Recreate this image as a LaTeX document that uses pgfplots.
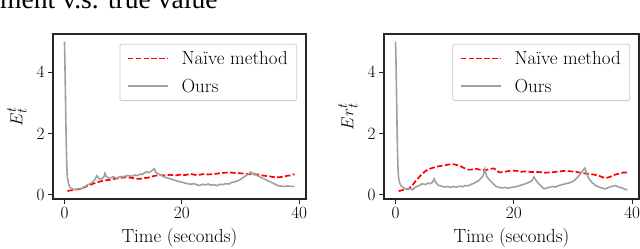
\documentclass[border=0pt]{standalone}
\usepackage{fontspec}
\usepackage{pgfplots}
\pgfplotsset{compat=1.18}
\newfontfamily\titlefont{Liberation Serif}
\newcommand{\cf}{\fontsize{19}{22}\selectfont}
\definecolor{ourgray}{RGB}{160,160,160}
\definecolor{legframe}{RGB}{204,204,204}
\pgfplotsset{
  naive/.style={color=red, dash pattern=on 5.5bp off 2.4bp, line width=1.7bp},
  ours/.style={color=ourgray, line width=1.6bp},
  myax/.style={
    scale only axis,
    anchor=south west,
    height=165bp,
    xmin=-1.96, xmax=41.16,
    ymin=-0.14, ymax=5.25,
    xtick={0,20,40}, ytick={0,2,4},
    tick align=outside,
    xtick pos=bottom, ytick pos=left,
    major tick length=5bp,
    axis line style={line width=1.1bp, black!85},
    tick style={line width=1.1bp, black!85},
    ticklabel style={font=\cf},
    label style={font=\cf},
    xlabel={Time (seconds)},
    xlabel style={yshift=-3bp},
    ylabel style={yshift=3bp},
    legend style={at={(0.965,0.94)}, anchor=north east, draw=legframe,
      rounded corners=2bp, font=\cf, fill=white, line width=0.8bp,
      inner xsep=7bp, inner ysep=5bp, row sep=9bp},
    legend cell align=left,
    legend image code/.code={\draw[##1, line width=1.7bp] (0bp,0bp) -- (40bp,0bp);},
  }
}
\newcommand{\lgap}{\hspace*{11bp}}
\begin{document}
\begin{tikzpicture}
\path[use as bounding box] (0,0) rectangle (640bp,249bp);
\node[anchor=base west, inner sep=0pt, font=\titlefont\fontsize{27.7}{30}\selectfont] at (0bp,240bp) {ment v.s. true value};
\begin{axis}[myax, at={(53bp,50bp)}, width=253bp, ylabel={$E_t^t$}]
\addlegendimage{naive}
\addlegendentry{\lgap Na\"ive method}
\addlegendimage{ours}
\addlegendentry{\lgap Ours}
\addplot[naive, forget plot] coordinates {
(0.5,0.12) (1,0.14) (1.5,0.15) (2,0.17) (2.5,0.18) (3,0.21) (3.5,0.25) (4,0.3) (4.5,0.33) (5,0.37) (5.5,0.4) (6,0.43) (6.5,0.45) (7,0.47) (7.5,0.48) (8,0.5) (8.5,0.52) (9,0.53) (9.5,0.55) (10,0.56) (10.5,0.57) (11,0.56) (11.5,0.55) (12,0.53) (12.5,0.52) (13,0.52) (13.5,0.54) (14,0.55) (14.5,0.57) (15,0.6) (15.5,0.62) (16,0.64) (16.5,0.64) (17,0.63) (17.5,0.64) (18,0.65) (18.5,0.64) (19,0.63) (19.5,0.65) (20,0.66) (20.5,0.64) (21,0.66) (21.5,0.68) (22,0.66) (22.5,0.64) (23,0.65) (23.5,0.67) (24,0.68) (24.5,0.66) (25,0.67) (25.5,0.68) (26,0.69) (26.5,0.7) (27,0.71) (27.5,0.72) (28,0.73) (28.5,0.72) (29,0.71) (29.5,0.7) (30,0.7) (30.5,0.69) (31,0.68) (31.5,0.67) (32,0.66) (32.5,0.66) (33,0.66) (33.5,0.64) (34,0.62) (34.5,0.61) (35,0.6) (35.5,0.58) (36,0.57) (36.5,0.57) (37,0.58) (37.5,0.6) (38,0.62) (38.5,0.63) (39.2,0.67)
};
\addplot[ours, forget plot] coordinates {
(0,5.0) (0.1,4.0) (0.2,2.8) (0.3,1.6) (0.4,0.9) (0.5,0.55) (0.7,0.35) (0.9,0.25) (1.2,0.2) (1.6,0.18) (2.0,0.17) (2.4,0.2) (2.8,0.19) (3.2,0.24) (3.6,0.28) (4.0,0.33) (4.4,0.36) (4.8,0.42) (5.2,0.5) (5.5,0.62) (5.8,0.55) (6.1,0.5) (6.4,0.53) (6.7,0.58) (6.9,0.7) (7.1,0.6) (7.5,0.55) (8.0,0.56) (8.3,0.59) (8.5,0.57) (8.8,0.54) (9.0,0.55) (9.3,0.58) (9.5,0.6) (10.0,0.58) (10.3,0.61) (10.5,0.6) (10.8,0.63) (11.0,0.62) (11.5,0.6) (11.8,0.63) (12.0,0.64) (12.5,0.63) (12.8,0.66) (13.0,0.68) (13.3,0.66) (13.5,0.7) (14.0,0.75) (14.3,0.72) (14.5,0.74) (14.8,0.77) (15.0,0.8) (15.3,0.85) (15.6,0.72) (16.0,0.68) (16.5,0.63) (17.0,0.58) (17.5,0.55) (18.0,0.52) (18.5,0.49) (19.0,0.46) (19.5,0.43) (20.0,0.41) (20.5,0.38) (21.0,0.36) (21.5,0.34) (22.0,0.36) (22.5,0.33) (23.0,0.3) (23.5,0.34) (24.0,0.32) (24.5,0.35) (25.0,0.31) (25.5,0.33) (26.0,0.3) (26.5,0.34) (27.0,0.33) (27.5,0.36) (28.0,0.35) (28.5,0.4) (29.0,0.42) (29.5,0.45) (30.0,0.5) (30.5,0.57) (31.0,0.63) (31.5,0.7) (31.8,0.74) (32.1,0.68) (32.4,0.7) (32.8,0.63) (33.2,0.6) (33.6,0.55) (34.0,0.52) (34.5,0.47) (35.0,0.43) (35.5,0.38) (36.0,0.33) (36.5,0.29) (37.0,0.28) (37.5,0.27) (38.0,0.29) (38.5,0.27) (39.2,0.27)
};
\end{axis}
\begin{axis}[myax, at={(384bp,50bp)}, width=255bp, ylabel={$Er_t^t$}]
\addlegendimage{naive}
\addlegendentry{\lgap Na\"ive method}
\addlegendimage{ours}
\addlegendentry{\lgap Ours}
\addplot[naive, forget plot] coordinates {
(0.5,0.12) (1,0.14) (1.5,0.17) (2.2,0.19) (2.8,0.3) (3.4,0.45) (4,0.58) (4.5,0.68) (5.1,0.78) (5.7,0.84) (6.3,0.88) (7.3,0.93) (8,0.95) (8.8,0.98) (9.6,1.0) (10.2,0.98) (10.9,0.94) (11.5,0.88) (12.1,0.82) (12.8,0.82) (13.5,0.85) (14.2,0.82) (15.2,0.8) (15.9,0.84) (16.6,0.86) (17.1,0.8) (17.5,0.73) (18.2,0.74) (19,0.77) (19.7,0.79) (20.5,0.78) (21.2,0.75) (22,0.76) (23,0.74) (24.2,0.74) (25.3,0.72) (26.5,0.73) (27.5,0.76) (28.7,0.78) (29.8,0.76) (31,0.73) (31.8,0.7) (32.7,0.68) (33.5,0.66) (34.4,0.62) (35,0.57) (35.5,0.54) (36.2,0.58) (37.2,0.66) (38,0.7) (38.6,0.73) (39.2,0.72)
};
\addplot[ours, forget plot] coordinates {
(0,5.0) (0.1,4.0) (0.2,2.8) (0.3,1.6) (0.4,0.9) (0.5,0.55) (0.7,0.38) (0.9,0.3) (1.2,0.25) (1.6,0.2) (2.0,0.19) (2.4,0.2) (2.8,0.16) (3.2,0.22) (3.6,0.27) (4.0,0.3) (4.5,0.36) (5.0,0.33) (5.5,0.38) (5.9,0.36) (6.3,0.42) (6.5,0.52) (6.8,0.4) (7.3,0.3) (7.8,0.28) (8.3,0.25) (8.8,0.27) (9.3,0.24) (9.8,0.27) (10.3,0.25) (10.8,0.28) (11.3,0.26) (11.8,0.3) (12.3,0.29) (12.8,0.34) (13.3,0.38) (13.7,0.42) (14.1,0.47) (14.5,0.55) (14.8,0.62) (15.1,0.84) (15.4,0.6) (15.8,0.5) (16.2,0.42) (16.6,0.34) (17.0,0.27) (17.5,0.24) (18,0.22) (18.5,0.24) (19,0.21) (19.5,0.24) (20,0.25) (20.5,0.27) (21,0.3) (21.5,0.33) (22,0.36) (22.5,0.4) (23,0.45) (23.4,0.58) (23.8,0.45) (24.2,0.36) (24.6,0.28) (25.1,0.19) (25.5,0.22) (26,0.24) (26.5,0.27) (27,0.25) (27.6,0.3) (28.2,0.33) (28.8,0.36) (29.4,0.39) (29.9,0.42) (30.4,0.5) (31,0.62) (31.5,0.75) (32,0.87) (32.3,0.7) (32.7,0.52) (33.2,0.4) (33.8,0.3) (34.4,0.25) (35,0.21) (35.5,0.19) (36,0.24) (36.6,0.27) (37.2,0.3) (37.7,0.25) (38.3,0.22) (38.9,0.17) (39.2,0.16)
};
\end{axis}
\end{tikzpicture}
\end{document}
